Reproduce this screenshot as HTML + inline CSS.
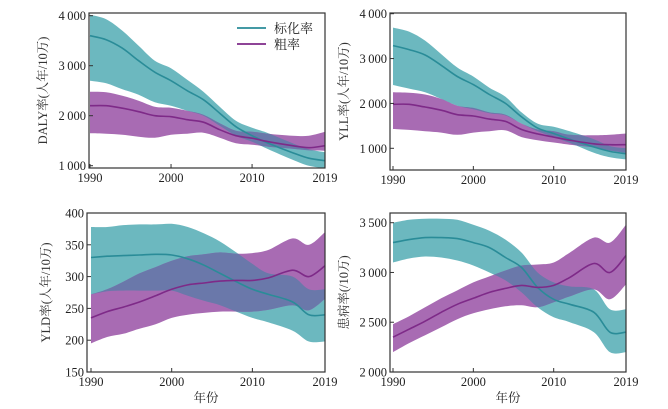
<!DOCTYPE html>
<html><head><meta charset="utf-8">
<style>
html,body{margin:0;padding:0;background:#fff;}
svg{display:block;font-family:"Liberation Serif","Noto Serif CJK SC","Noto Sans CJK SC",serif;}
</style></head>
<body>
<svg id="chart" width="668" height="409" viewBox="0 0 668 409"></svg>
<script>
const years = [1990,1992,1994,1996,1998,2000,2002,2004,2006,2008,2010,2012,2015,2017,2019];

const dalyStdMean = [3600,3520,3350,3100,2870,2700,2500,2320,2050,1780,1600,1450,1260,1150,1100];
const dalyStdUp   = [4020,3930,3700,3400,3100,2950,2720,2480,2180,1900,1760,1650,1450,1330,1270];
const dalyStdLow  = [2700,2650,2530,2420,2270,2200,2100,2000,1800,1600,1480,1330,1120,1000,950];
const dalyCrMean  = [2200,2200,2150,2080,2000,1980,1920,1870,1720,1600,1550,1480,1400,1360,1400];
const dalyCrUp    = [2480,2470,2400,2300,2180,2160,2100,2020,1850,1700,1680,1640,1600,1600,1680];
const dalyCrLow   = [1650,1640,1620,1580,1560,1620,1640,1660,1560,1450,1420,1380,1340,1310,1300];

const yllStdMean = [3290,3200,3080,2850,2600,2420,2200,2000,1700,1450,1330,1200,1030,930,880];
const yllStdUp   = [3690,3600,3400,3100,2800,2600,2350,2150,1800,1550,1480,1380,1200,1050,1000];
const yllStdLow  = [2410,2330,2250,2100,1950,1870,1780,1730,1550,1380,1250,1120,900,800,750];
const yllCrMean  = [1980,1980,1920,1850,1750,1720,1650,1600,1420,1320,1250,1180,1100,1080,1080];
const yllCrUp    = [2250,2240,2200,2100,1950,1900,1800,1750,1550,1420,1380,1300,1290,1300,1330];
const yllCrLow   = [1430,1410,1380,1350,1300,1350,1380,1400,1250,1180,1130,1080,1020,950,900];

const yldStdMean = [330,332,333,334,335,334,328,318,305,292,280,272,260,240,240];
const yldStdUp   = [378,378,381,382,382,383,378,368,355,338,320,305,300,280,280];
const yldStdLow  = [272,277,278,278,278,278,270,262,255,245,235,228,215,198,198];
const yldCrMean  = [235,245,252,260,270,280,287,290,293,294,294,298,310,300,317];
const yldCrUp    = [272,280,292,305,315,325,332,335,338,336,337,342,360,350,370];
const yldCrLow   = [195,205,210,218,225,235,240,243,245,245,245,248,255,247,265];

const prevStdMean = [3300,3330,3350,3350,3340,3300,3250,3150,3050,2850,2730,2680,2600,2400,2400];
const prevStdUp   = [3500,3530,3540,3540,3530,3480,3420,3330,3200,3000,2900,2860,2830,2630,2630];
const prevStdLow  = [3100,3140,3160,3150,3120,3070,3000,2920,2800,2650,2550,2500,2400,2200,2200];
const prevCrMean  = [2350,2430,2510,2600,2680,2740,2800,2840,2870,2850,2870,2950,3090,3000,3170];
const prevCrUp    = [2480,2560,2650,2740,2820,2900,2960,3020,3070,3080,3100,3200,3350,3300,3480];
const prevCrLow   = [2200,2290,2370,2450,2530,2590,2630,2660,2670,2650,2700,2760,2830,2730,2880];

const xTicks = [1990,2000,2010,2019];
const dalyTicks = [1000,2000,3000,4000];
const yllTicks = [1000,2000,3000,4000];
const yldTicks = [150,200,250,300,350,400];
const prevTicks = [2000,2500,3000,3500];

const NS='http://www.w3.org/2000/svg';
const svg=document.getElementById('chart');
function mk(tag,attrs,parent){const e=document.createElementNS(NS,tag);for(const k in attrs)e.setAttribute(k,attrs[k]);(parent||svg).appendChild(e);return e;}
function fmt(v){return v>=1000?String(v).replace(/(\d)(\d{3})$/,'$1\u2009$2'):String(v);}

const TEAL='#6cb8bf',TEAL_L='#2a8c98',PUR='#a86bb3',PUR_L='#7e2a88',OVER='#6a78aa';
let clipId=0;

// Catmull-Rom smoothing through points (continuing path if cont=true)
function smooth(pts,cont){
  let d=(cont?'L':'M')+pts[0][0].toFixed(1)+','+pts[0][1].toFixed(1);
  for(let i=0;i<pts.length-1;i++){
    const p0=pts[i-1]||pts[i],p1=pts[i],p2=pts[i+1],p3=pts[i+2]||pts[i+1];
    const c1=[p1[0]+(p2[0]-p0[0])/6,p1[1]+(p2[1]-p0[1])/6];
    const c2=[p2[0]-(p3[0]-p1[0])/6,p2[1]-(p3[1]-p1[1])/6];
    d+='C'+c1[0].toFixed(1)+','+c1[1].toFixed(1)+' '+c2[0].toFixed(1)+','+c2[1].toFixed(1)+' '+p2[0].toFixed(1)+','+p2[1].toFixed(1);
  }
  return d;
}

function panel(cfg){
  const g=mk('g',{});
  
  
  const {L,R,T,B}=cfg;
  const xs=v=>cfg.xl+(v-1990)/(2019-1990)*(R-cfg.xl);
  const ys=v=>cfg.yb+(v-cfg.yvAtB)/(cfg.yvAtT-cfg.yvAtB)*(cfg.yt-cfg.yb);
  const pts=a=>a.map((v,i)=>[xs(years[i]),ys(v)]);
  const line=a=>smooth(pts(a),false);
  const band=(u,l)=>smooth(pts(u),false)+smooth(pts(l).reverse(),true)+'Z';
  const cid='clip'+(clipId++), tid='tclip'+clipId;
  const defs=mk('defs',{},g);
  const cp=mk('clipPath',{id:cid},defs); mk('rect',{x:L,y:T,width:R-L,height:B-T},cp);
  const tp=mk('clipPath',{id:tid},defs); mk('path',{d:band(cfg.su,cfg.sl)},tp);
  const pg=mk('g',{'clip-path':'url(#'+cid+')'},g);
  const sb=mk('path',{d:band(cfg.su,cfg.sl),fill:TEAL},pg);
  
  
  const cb=mk('path',{d:band(cfg.cu,cfg.cl),fill:PUR},pg);
  
  
  const ob=mk('path',{d:band(cfg.cu,cfg.cl),fill:OVER,'clip-path':'url(#'+tid+')'},pg);
  
  
  const sl=mk('path',{d:line(cfg.sm),fill:'none',stroke:TEAL_L,'stroke-width':1.6},pg);
  
  
  const cl=mk('path',{d:line(cfg.cm),fill:'none',stroke:PUR_L,'stroke-width':1.6},pg);
  
  
  const fr=mk('rect',{x:L,y:T,width:R-L,height:B-T,fill:'none',stroke:'#333','stroke-width':1.2},g);
  
  
  cfg.ticks.forEach(v=>{
    const y=ys(v);
    mk('line',{x1:L,x2:L+4,y1:y,y2:y,stroke:'#333'},g);
    const t=mk('text',{x:L-3,y:y+4.5,'text-anchor':'end','font-size':12.5,fill:'#222'},g);
    t.textContent=fmt(v);
    
    
  });
  xTicks.forEach(v=>{
    const x=xs(v);
    mk('line',{x1:x,x2:x,y1:B,y2:B-4,stroke:'#333'},g);
    const t=mk('text',{x:x,y:B+14,'text-anchor':'middle','font-size':12.5,fill:'#222'},g);
    t.textContent=v;
    
    
  });
  const yt=mk('text',{x:0,y:0,transform:'translate('+cfg.tx+','+((T+B)/2)+') rotate(-90)','text-anchor':'middle','font-size':12.5,fill:'#333'},g);
  yt.textContent=cfg.title;
  
  
  if(cfg.xtitle){
    const xt=mk('text',{x:(L+R)/2,y:B+30,'text-anchor':'middle','font-size':12.5,fill:'#222'},g);
    xt.textContent='年份';
    
    
  }
}

panel({name:'daly-panel',L:89,R:325,T:13,B:168,xl:90,yt:15.7,yb:165.7,yvAtT:4000,yvAtB:1000,ticks:dalyTicks,
  su:dalyStdUp,sl:dalyStdLow,sm:dalyStdMean,cu:dalyCrUp,cl:dalyCrLow,cm:dalyCrMean,tx:47,title:'DALY率(人年/10万)'});
panel({name:'yll-panel',L:390,R:626,T:13,B:170,xl:393,yt:13.7,yb:148.3,yvAtT:4000,yvAtB:1000,ticks:yllTicks,
  su:yllStdUp,sl:yllStdLow,sm:yllStdMean,cu:yllCrUp,cl:yllCrLow,cm:yllCrMean,tx:348,title:'YLL率(人年/10万)'});
panel({name:'yld-panel',L:87,R:325,T:213,B:372,xl:91,yt:213,yb:372,yvAtT:400,yvAtB:150,ticks:yldTicks,
  su:yldStdUp,sl:yldStdLow,sm:yldStdMean,cu:yldCrUp,cl:yldCrLow,cm:yldCrMean,tx:50,title:'YLD率(人年/10万)',xtitle:true});
panel({name:'prevalence-panel',L:390,R:626,T:213,B:372,xl:393,yt:222.7,yb:372,yvAtT:3500,yvAtB:2000,ticks:prevTicks,
  su:prevStdUp,sl:prevStdLow,sm:prevStdMean,cu:prevCrUp,cl:prevCrLow,cm:prevCrMean,tx:348,title:'患病率(/10万)',xtitle:true});

const lg=mk('g',{});


[['标化率',TEAL_L,28],['粗率',PUR_L,44]].forEach(([lab,c,y])=>{
  const e=mk('g',{},lg);
  
  
  mk('line',{x1:237,x2:266,y1:y,y2:y,stroke:c,'stroke-width':1.8},e);
  const t=mk('text',{x:274,y:y+5,'font-size':13,fill:'#222'},e);
  t.textContent=lab;
});
</script>
</body></html>
